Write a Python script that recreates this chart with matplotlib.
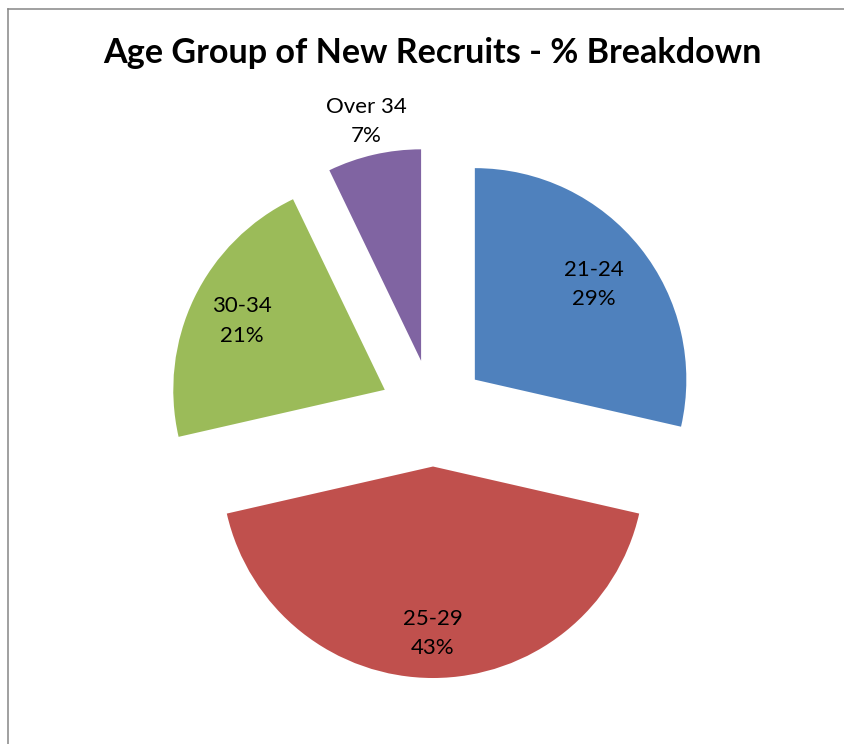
import numpy as np
import matplotlib
matplotlib.use('Agg')
import matplotlib.pyplot as plt
from matplotlib.lines import Line2D

# data (head counts per age group; labels show rounded share)
age_groups = ['21-24', '25-29', '30-34', 'Over 34']
recruits = [4, 6, 3, 1]
slice_colors = ['#4F81BD', '#C0504D', '#9BBB59', '#8064A2']
title_text = 'Age Group of New Recruits - % Breakdown'

W, H = 845, 744
CX, CY = 433, 413      # pie centre, from top-left
R_PX = 211.5           # pie radius
EXPLODE = 0.253
label_dist = [0.72, 0.79, 0.75, 1.16]   # from the exploded slice centre

plt.rcParams['font.family'] = ['Lato', 'DejaVu Sans']

fig = plt.figure(figsize=(W / 100, H / 100), dpi=100)
ax = fig.add_axes([0, 0, 1, 1])

wedges, _ = ax.pie(recruits, colors=slice_colors, startangle=90,
                   counterclock=False, explode=[EXPLODE] * len(recruits),
                   radius=1, wedgeprops=dict(linewidth=0))

ax.set_xlim(-CX / R_PX, (W - CX) / R_PX)
ax.set_ylim(-(H - CY) / R_PX, CY / R_PX)
ax.set_aspect('auto')
ax.axis('off')

total = sum(recruits)
# data labels, category + percent
for w, name, n, d in zip(wedges, age_groups, recruits, label_dist):
    mid = np.deg2rad((w.theta1 + w.theta2) / 2)
    x0, y0 = w.center
    pct = round(100 * n / total)
    ax.text(x0 + d * np.cos(mid), y0 + d * np.sin(mid), f'{name}\n{pct}%',
            ha='center', va='center', fontsize=16, linespacing=1.6,
            color='black')

fig.text(432.5 / W, 1 - 63 / H, title_text, ha='center', va='baseline',
         fontsize=24.6, fontweight='bold', color='black')

# chart area border (only top and left are visible in the crop)
bx, by = 8.5 / W, 1 - 8.5 / H
fig.add_artist(Line2D([bx, bx], [0, by], color='#868686', lw=1.1))
fig.add_artist(Line2D([bx, 1], [by, by], color='#868686', lw=1.1))

fig.savefig('out.png', dpi=100, facecolor='white')
